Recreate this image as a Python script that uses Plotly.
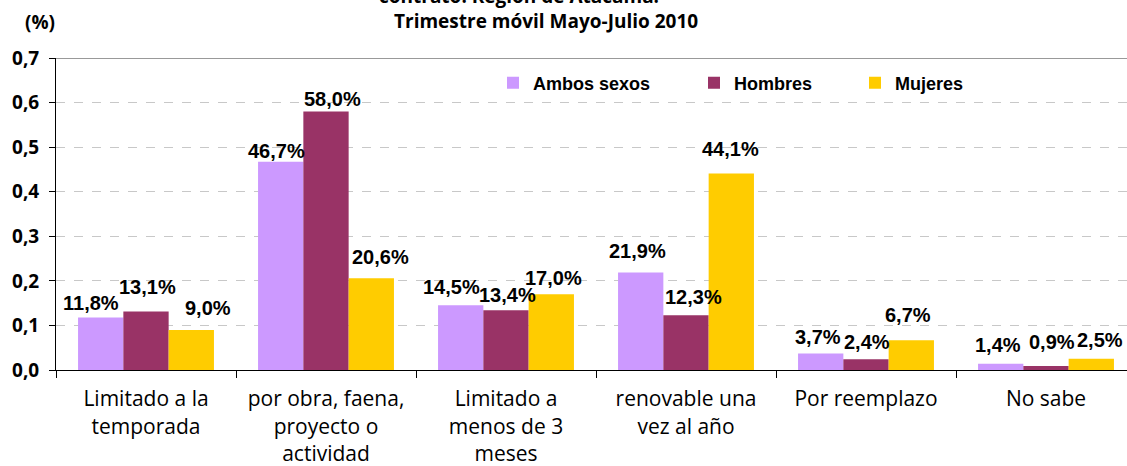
import plotly.graph_objects as go

categories = [
    "Limitado a la<br>temporada",
    "por obra, faena,<br>proyecto o<br>actividad",
    "Limitado a<br>menos de 3<br>meses",
    "renovable una<br>vez al año",
    "Por reemplazo",
    "No sabe",
]
series_names = ["Ambos sexos", "Hombres", "Mujeres"]
ambos = [0.118, 0.467, 0.145, 0.219, 0.037, 0.014]
hombres = [0.131, 0.580, 0.134, 0.123, 0.024, 0.009]
mujeres = [0.090, 0.206, 0.170, 0.441, 0.067, 0.025]
ytick_vals = [0.0, 0.1, 0.2, 0.3, 0.4, 0.5, 0.6, 0.7]

colors = ["#CC99FF", "#993366", "#FFCC00"]

# label nudges (px) to mimic the hand-placed labels
label_dx = [
    [-10, -4, -9, -3, -3, -3],
    [1, 6, 1, 7, 1, 6],
    [17, 9, 2, -1, -3, 9],
]
label_dy = [
    [14, 11, 18, 21, 17, 19],
    [25, 12, 15, 18, 17, 24],
    [22, 21, 16, 24, 25, 19],
]

W, H = 1127, 466
ML, MR, MT, MB = 56, 0, 58, 96
bargap = 0.245

fig = go.Figure()
all_series = [ambos, hombres, mujeres]
legends = ["legend", "legend2", "legend3"]
for j, (name, vals) in enumerate(zip(series_names, all_series)):
    fig.add_trace(go.Bar(
        x=categories, y=vals, name=name,
        marker=dict(color=colors[j], line=dict(width=0)),
        legend=legends[j],
    ))

annotations = []
bw = (1 - bargap) / 3
for j, vals in enumerate(all_series):
    for i, v in enumerate(vals):
        annotations.append(dict(
            x=i + (j - 1) * bw, y=v, xref="x", yref="y",
            text=f"{v*100:.1f}%".replace(".", ","),
            showarrow=False, xanchor="center", yanchor="middle",
            xshift=label_dx[j][i], yshift=label_dy[j][i],
            font=dict(family="Liberation Sans", size=20, color="black", weight="bold"),
        ))

annotations.append(dict(
    x=(40 - ML) / (W - ML - MR), y=1, xref="paper", yref="paper",
    text="(%)", showarrow=False, xanchor="center", yanchor="middle",
    yshift=MT - 22,
    font=dict(family="Open Sans", size=19, color="black", weight="bold"),
))
annotations.append(dict(
    x=(546 - ML) / (W - ML - MR), y=1, xref="paper", yref="paper",
    text="Trimestre móvil Mayo-Julio 2010", showarrow=False,
    xanchor="center", yanchor="middle", yshift=MT - 21,
    font=dict(family="Open Sans", size=19, color="black", weight="bold"),
))
annotations.append(dict(
    x=(519 - ML) / (W - ML - MR), y=1, xref="paper", yref="paper",
    text="contrato. Región de Atacama.", showarrow=False,
    xanchor="center", yanchor="middle", yshift=MT + 4,
    font=dict(family="Open Sans", size=19, color="black", weight="bold"),
))

legfont = dict(family="Liberation Sans", size=18, color="black", weight="bold")
def leg(xpx):
    return dict(orientation="h", x=(xpx - ML) / (W - ML - MR), y=0.92,
                xanchor="left", yanchor="middle", bgcolor="rgba(0,0,0,0)",
                font=legfont, itemwidth=30, borderwidth=0)

fig.update_layout(
    width=W, height=H,
    margin=dict(l=ML, r=MR, t=MT, b=MB, pad=0),
    paper_bgcolor="white", plot_bgcolor="white",
    barmode="group", bargap=bargap, bargroupgap=0,
    separators=",.",
    annotations=annotations,
    legend=leg(493), legend2=leg(694), legend3=leg(855),
    showlegend=True,
    xaxis=dict(
        range=[-0.5, -0.5 + (W - ML - MR) / 180],
        showline=True, linecolor="black", linewidth=1,
        ticks="outside", ticklen=7, tickcolor="black", tickson="boundaries",
        tickfont=dict(family="Open Sans", size=21, color="black"),
        ticklabelstandoff=10,
        showgrid=False,
    ),
    yaxis=dict(
        range=[0, 0.7], tickvals=ytick_vals, tickformat=".1f",
        showline=True, linecolor="black", linewidth=1,
        ticks="outside", ticklen=6, tickcolor="black",
        tickfont=dict(family="Open Sans", size=19, color="black", weight="bold"),
        ticklabelstandoff=6,
        showgrid=True, gridcolor="#C8C8C8", griddash="dash", gridwidth=1,
        zeroline=False,
    ),
    shapes=[dict(type="line", xref="paper", yref="y", x0=0, x1=1, y0=0.7, y1=0.7,
                 line=dict(color="#999999", width=2))],
)

fig.write_html("out.html")
